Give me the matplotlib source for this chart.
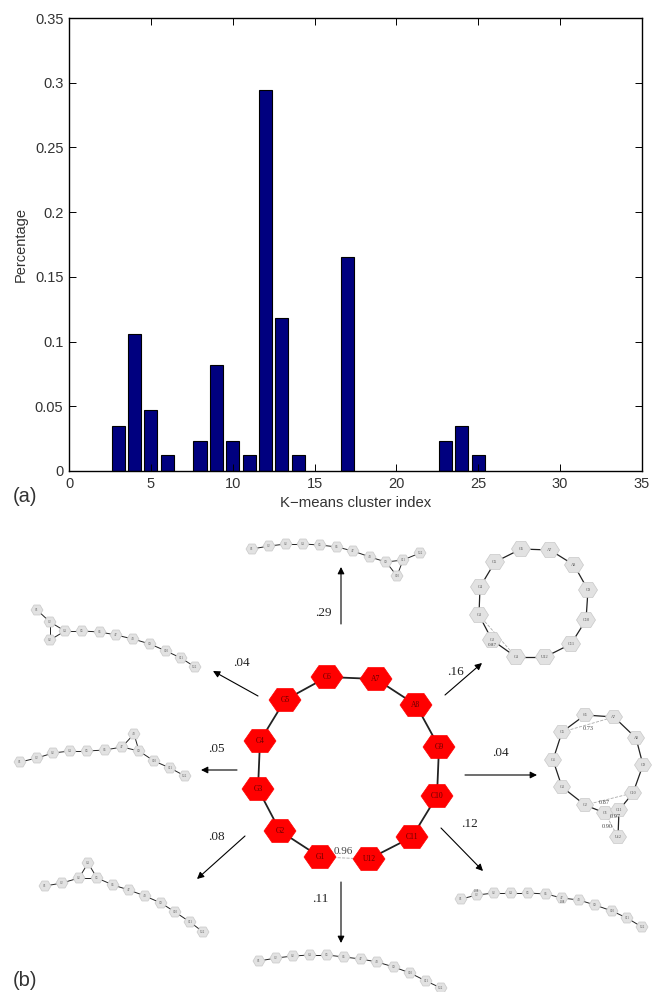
import matplotlib
matplotlib.use("Agg")
import matplotlib.pyplot as plt
from matplotlib.patches import Polygon

plt.rcParams['font.family'] = ['Liberation Sans', 'DejaVu Sans']

# (a) bar chart
cluster_index = [3, 4, 5, 6, 8, 9, 10, 11, 12, 13, 14, 17, 23, 24, 25]
percentage = [0.035, 0.106, 0.047, 0.012, 0.0235, 0.082, 0.0235, 0.012, 0.294, 0.118, 0.012, 0.165, 0.0235, 0.035, 0.012]
x_ticks = [0, 5, 10, 15, 20, 25, 30, 35]
y_ticks = [0, 0.05, 0.1, 0.15, 0.2, 0.25, 0.3, 0.35]
y_ticklabels = ['0', '0.05', '0.1', '0.15', '0.2', '0.25', '0.3', '0.35']

# (b) structures, node order is always G1 .. U12
names = ['G1', 'G2', 'G3', 'C4', 'G5', 'C6', 'A7', 'A8', 'G9', 'C10', 'C11', 'U12']
red_ring = [(320, 857), (280, 831), (258, 789), (260, 741), (285, 700), (327, 677),
            (376, 679), (416, 705), (439, 747), (437, 796), (412, 837), (369, 859)]
ring_top = [(516, 657), (492, 640), (479, 615), (480, 587), (495, 562), (521, 549),
            (550, 550), (574, 565), (588, 590), (586, 620), (571, 644), (545, 657)]
ring_right = [(605, 813), (585, 805), (562, 787), (553, 760), (562, 732), (585, 715),
              (614, 717), (636, 738), (643, 765), (633, 793), (619, 810), (618, 837)]
chain_top = [(252, 549), (269, 546), (286, 544), (303, 544), (320, 545), (337, 547),
             (353, 551), (370, 557), (386, 562), (397, 576), (403, 560), (420, 553)]
chain_left = [(37, 610), (50, 622), (50, 640), (65, 631), (82, 631), (100, 632),
              (116, 635), (133, 639), (150, 644), (166, 651), (181, 658), (195, 667)]
chain_mid = [(20, 762), (37, 758), (53, 753), (70, 751), (87, 751), (105, 750),
             (122, 747), (134, 734), (139, 751), (154, 761), (170, 768), (185, 776)]
chain_low = [(45, 886), (62, 883), (79, 878), (88, 863), (97, 878), (113, 885),
             (129, 890), (145, 896), (161, 903), (175, 912), (190, 922), (203, 932)]
chain_bottom = [(259, 961), (276, 958), (293, 956), (310, 955), (327, 955), (344, 957),
                (361, 959), (377, 962), (394, 967), (410, 973), (426, 981), (441, 988)]
chain_right = [(461, 899), (477, 895), (494, 893), (511, 893), (528, 893), (546, 894),
               (562, 898), (579, 900), (595, 905), (612, 911), (627, 918), (642, 927)]

# arrows: label, start, tip, label position
arrow_labels = ['.29', '.04', '.05', '.08', '.11', '.12', '.04', '.16']
arrow_starts = [(341, 624), (258, 696), (237, 770), (245, 836), (341, 882), (441, 828), (465, 775), (445, 695)]
arrow_tips = [(341, 567), (213, 671), (201, 770), (197, 879), (341, 943), (483, 871), (537, 775), (482, 663)]
label_pos = [(323, 613), (241, 663), (216, 749), (216, 837), (320, 899), (470, 824), (500, 753), (455, 672)]

fig = plt.figure(figsize=(6.52, 9.92), dpi=100)
W, H = 652.0, 992.0

ax = fig.add_axes([69 / W, 1 - 471 / H, 573 / W, 453 / H])
ax.bar(cluster_index, percentage, width=0.8, color='#00007f', edgecolor='black', linewidth=0.8)
ax.set_xlim(0, 35)
ax.set_ylim(0, 0.35)
ax.set_xticks(x_ticks)
ax.set_yticks(y_ticks)
ax.set_yticklabels(y_ticklabels)
ax.tick_params(direction='in', labelsize=10.5, length=5, width=0.7, top=True, right=True, pad=4,
               labelcolor='#333333')
for s in ax.spines.values():
    s.set_linewidth(1.0)
ax.set_xlabel('K\u2212means cluster index', fontsize=10.7, labelpad=4, color='#333333')
ax.set_ylabel('Percentage', fontsize=10.5, labelpad=5, color='#333333')

# whole figure in pixel coordinates for the diagram
bx = fig.add_axes([0, 0, 1, 1], facecolor='none')
bx.set_xlim(0, W)
bx.set_ylim(H, 0)
bx.axis('off')


def draw_structure(nodes, w, h, face, edge, lw, fs, txt='#555555', extra=(), dashed=()):
    for i in range(len(nodes) - 1):
        bx.plot([nodes[i][0], nodes[i + 1][0]], [nodes[i][1], nodes[i + 1][1]],
                color='#222222', lw=lw, zorder=2)
    for a, b in extra:
        bx.plot([nodes[a][0], nodes[b][0]], [nodes[a][1], nodes[b][1]], color='#222222', lw=lw, zorder=2)
    for a, b in dashed:
        bx.plot([nodes[a][0], nodes[b][0]], [nodes[a][1], nodes[b][1]], color='#aaaaaa', lw=0.6,
                ls='--', zorder=2)
    for (x, y), name in zip(nodes, names):
        hexagon = [(x - w / 2, y), (x - w / 4, y - h / 2), (x + w / 4, y - h / 2),
                   (x + w / 2, y), (x + w / 4, y + h / 2), (x - w / 4, y + h / 2)]
        bx.add_patch(Polygon(hexagon, closed=True, facecolor=face, edgecolor=edge, lw=0.5, zorder=3))
        bx.text(x, y, name, ha='center', va='center', fontsize=fs, family='Liberation Serif',
                color=txt, zorder=4)


draw_structure(red_ring, 32, 23, '#ff0000', '#ff0000', 1.3, 5.5, txt='#660000', dashed=[(0, 11)])
bx.text(343, 851, '0.96', ha='center', va='center', fontsize=8, family='Liberation Serif', color='#444444')

gray = '#e2e2e2'
edge_gray = '#c8c8c8'
draw_structure(ring_top, 19, 15, gray, edge_gray, 0.9, 3.2, extra=[(0, 11)], dashed=[(0, 2)])
bx.text(492, 645, '0.87', ha='center', va='center', fontsize=3.6, family='Liberation Serif', color='#444444', zorder=5)
draw_structure(ring_right, 17, 13, gray, edge_gray, 0.9, 3, dashed=[(4, 6), (1, 9), (0, 11)])
for lx, ly, t in [(588, 729, '0.73'), (604, 803, '0.87'), (615, 817, '0.97'), (607, 827, '0.90')]:
    bx.text(lx, ly, t, ha='center', va='center', fontsize=4.5, family='Liberation Serif', color='#444444', zorder=5)
draw_structure(chain_top, 12, 10, gray, edge_gray, 0.7, 2.2, extra=[(8, 10)])
draw_structure(chain_left, 12, 10, gray, edge_gray, 0.7, 2.2, extra=[(1, 3)])
draw_structure(chain_mid, 12, 10, gray, edge_gray, 0.7, 2.2, extra=[(6, 8)])
draw_structure(chain_low, 12, 10, gray, edge_gray, 0.7, 2.2, extra=[(2, 4)])
draw_structure(chain_bottom, 12, 10, gray, edge_gray, 0.7, 2.2)
draw_structure(chain_right, 12, 10, gray, edge_gray, 0.7, 2.2)
for lx, ly in [(477, 891), (562, 902)]:
    bx.text(lx, ly, '0.88', ha='center', va='center', fontsize=2.2, family='Liberation Serif', color='#444444', zorder=5)

for lab, st, tip, lp in zip(arrow_labels, arrow_starts, arrow_tips, label_pos):
    bx.annotate('', xy=tip, xytext=st,
                arrowprops=dict(arrowstyle='-|>', color='black', lw=0.8, mutation_scale=10,
                                shrinkA=0, shrinkB=0))
    bx.text(lp[0], lp[1], lab, ha='center', va='center', fontsize=9.5, family='Liberation Serif', color='#222222')

bx.text(13, 497, '(a)', ha='left', va='center', fontsize=14.5, color='#333333')
bx.text(13, 980, '(b)', ha='left', va='center', fontsize=14.5, color='#333333')

fig.savefig('out.png', dpi=100)
